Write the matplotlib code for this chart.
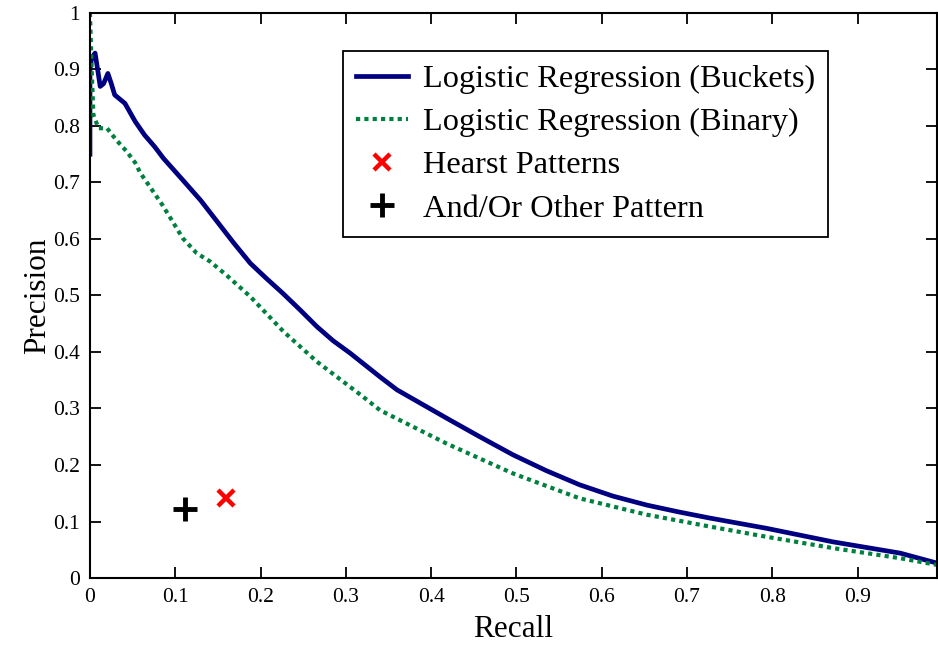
import matplotlib
matplotlib.use("Agg")
import matplotlib.pyplot as plt

plt.rcParams['font.family'] = ['Liberation Serif', 'DejaVu Serif']

buckets_recall = [0.0, 0.0, 0.002, 0.006, 0.009, 0.012, 0.016, 0.021, 0.025, 0.029, 0.041, 0.053,
                  0.064, 0.076, 0.086, 0.109, 0.130, 0.149, 0.168, 0.188, 0.207, 0.226, 0.246,
                  0.266, 0.285, 0.305, 0.340, 0.36, 0.418, 0.457, 0.496, 0.535, 0.574, 0.613,
                  0.653, 0.69, 0.727, 0.793, 0.871, 0.950, 0.994]
buckets_precision = [0.75, 0.90, 0.92, 0.929, 0.90, 0.87, 0.875, 0.893, 0.875, 0.855, 0.84, 0.808,
                     0.784, 0.763, 0.743, 0.704, 0.668, 0.631, 0.594, 0.557, 0.530, 0.504, 0.475,
                     0.445, 0.420, 0.398, 0.356, 0.333, 0.283, 0.25, 0.218, 0.19, 0.165, 0.145,
                     0.129, 0.117, 0.106, 0.088, 0.064, 0.044, 0.026]

binary_recall = [0.0, 0.002, 0.004, 0.010, 0.020, 0.031, 0.043, 0.053, 0.059, 0.070, 0.085, 0.109,
                 0.125, 0.141, 0.160, 0.188, 0.227, 0.266, 0.320, 0.340, 0.418, 0.496, 0.574,
                 0.653, 0.727, 0.793, 0.871, 0.950, 0.994]
binary_precision = [1.0, 0.90, 0.82, 0.796, 0.796, 0.775, 0.755, 0.735, 0.717, 0.693, 0.66, 0.601,
                    0.575, 0.560, 0.536, 0.498, 0.436, 0.383, 0.321, 0.297, 0.238, 0.185, 0.141,
                    0.112, 0.091, 0.073, 0.053, 0.035, 0.023]

hearst_recall = [0.159]
hearst_precision = [0.141]
andor_recall = [0.112]
andor_precision = [0.122]

xticks = [0, 0.1, 0.2, 0.3, 0.4, 0.5, 0.6, 0.7, 0.8, 0.9]
xticklabels = ['0', '0.1', '0.2', '0.3', '0.4', '0.5', '0.6', '0.7', '0.8', '0.9']
yticks = [0, 0.1, 0.2, 0.3, 0.4, 0.5, 0.6, 0.7, 0.8, 0.9, 1.0]
yticklabels = ['0', '0.1', '0.2', '0.3', '0.4', '0.5', '0.6', '0.7', '0.8', '0.9', '1']

fig = plt.figure(figsize=(9.38, 6.48), dpi=100)
ax = fig.add_axes([0.0959, 0.108, 0.903, 0.872])

ax.plot(buckets_recall, buckets_precision, color='#000080', lw=3.4,
        label='Logistic Regression (Buckets)', solid_joinstyle='round')
ax.plot(binary_recall, binary_precision, color='#00803f', lw=3.0, linestyle=(0, (1, 1)),
        label='Logistic Regression (Binary)')
ax.plot(hearst_recall, hearst_precision, linestyle='none', marker='x', color='#ff0000',
        ms=12, mew=3.2, label='Hearst Patterns')
ax.plot(andor_recall, andor_precision, linestyle='none', marker='+', color='black',
        ms=17, mew=3.5, label='And/Or Other Pattern')

ax.set_xlim(0, 0.993)
ax.set_ylim(0, 1)
ax.set_xticks(xticks)
ax.set_xticklabels(xticklabels)
ax.set_yticks(yticks)
ax.set_yticklabels(yticklabels)
ax.tick_params(direction='in', length=8, width=1.3, top=True, right=True,
               labelsize=15.5, pad=7)
for s in ax.spines.values():
    s.set_linewidth(1.5)

ax.set_xlabel('Recall', fontsize=22.5, labelpad=6)
ax.set_ylabel('Precision', fontsize=22.5, labelpad=1)

leg = ax.legend(loc='upper right', bbox_to_anchor=(0.871, 0.932), fontsize=23.3,
                frameon=True, fancybox=False, edgecolor='black', framealpha=1,
                handlelength=1.6, handletextpad=0.45, borderpad=0.4, labelspacing=0.42,
                borderaxespad=0)
leg.get_frame().set_linewidth(1.3)

fig.savefig('out.png', dpi=100)
